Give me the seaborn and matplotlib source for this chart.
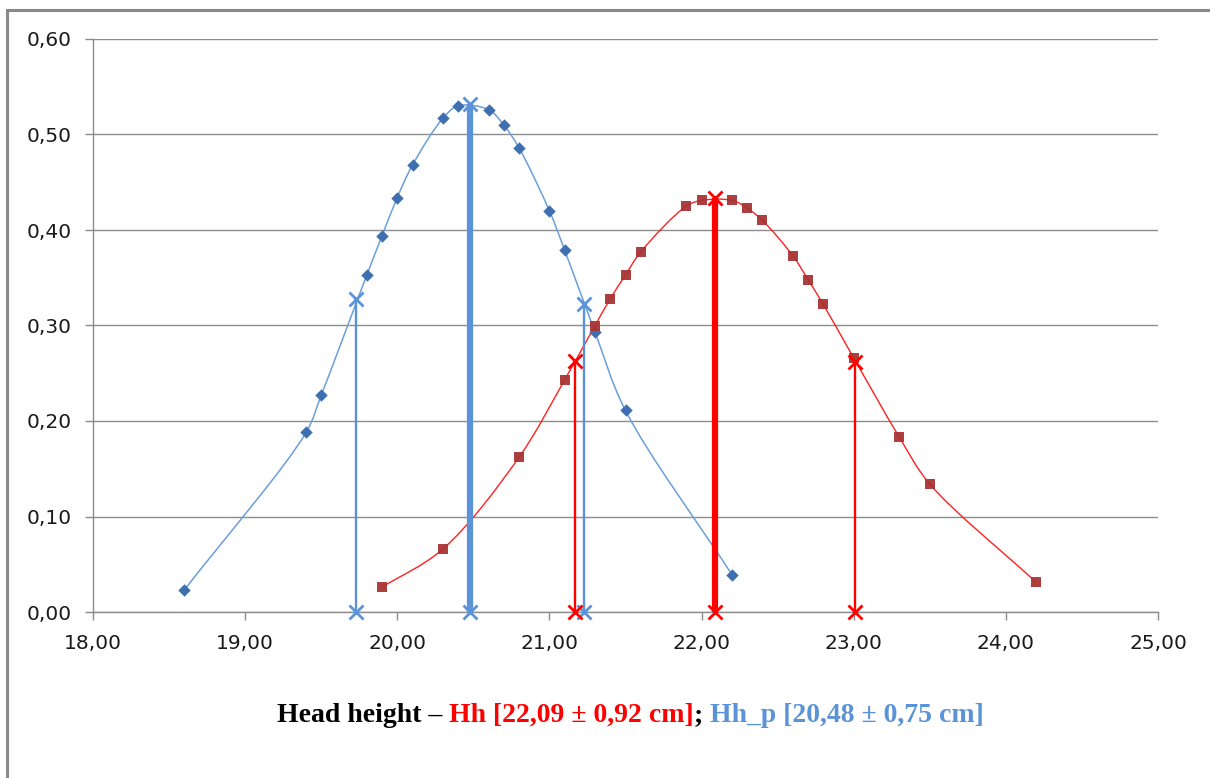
"""
Head height: normal curves of Hh and Hh_p, with mean and mean ± sd markers.
"""
import matplotlib
matplotlib.use("Agg")
import matplotlib.pyplot as plt
import numpy as np
import pandas as pd
import seaborn as sns
from matplotlib.patches import PathPatch, Rectangle
from matplotlib.path import Path
from matplotlib.ticker import FuncFormatter, MultipleLocator

# ── Dados ─────────────────────────────────────────────────────────────────────
hh_p_x = [18.6, 19.4, 19.5, 19.8, 19.9, 20.0, 20.1, 20.3, 20.4, 20.6, 20.7,
          20.8, 21.0, 21.1, 21.3, 21.5, 22.2]
hh_p_y = [0.023, 0.188, 0.227, 0.353, 0.394, 0.434, 0.468, 0.517, 0.530, 0.526,
          0.510, 0.486, 0.420, 0.379, 0.293, 0.211, 0.039]

hh_x = [19.9, 20.3, 20.8, 21.1, 21.3, 21.4, 21.5, 21.6, 21.9, 22.0, 22.2, 22.3,
        22.4, 22.6, 22.7, 22.8, 23.0, 23.3, 23.5, 24.2]
hh_y = [0.026, 0.066, 0.162, 0.243, 0.300, 0.328, 0.353, 0.377, 0.425, 0.431,
        0.431, 0.423, 0.410, 0.373, 0.348, 0.322, 0.266, 0.183, 0.134, 0.031]

# média e média ± desvio (x) e altura da curva nesses pontos (y)
hh_p_marks_x = [19.73, 20.48, 21.23]
hh_p_marks_y = [0.328, 0.532, 0.322]
hh_marks_x   = [21.17, 22.09, 23.01]
hh_marks_y   = [0.263, 0.434, 0.262]

x_ticks = [18, 19, 20, 21, 22, 23, 24, 25]
y_ticks = [0.0, 0.1, 0.2, 0.3, 0.4, 0.5, 0.6]

# ── Cores ─────────────────────────────────────────────────────────────────────
BLUE_LINE   = "#6a9fdc"
BLUE_MARK   = "#3e6fb0"
BLUE_VLINE  = "#5b93d8"
RED_LINE    = "#ff2020"
RED_MARK    = "#a83434"
RED_VLINE   = "#ff0000"
GRID        = "#8c8c8c"


def smooth_path(ax, xs, ys, alpha=0.5):
    """Linha suavizada (Catmull-Rom centrípeta convertida em Bezier cúbica)."""
    pts = ax.transData.transform(np.column_stack([xs, ys]))
    n = len(pts)
    verts, codes = [pts[0]], [Path.MOVETO]
    for i in range(n - 1):
        p1, p2 = pts[i], pts[i + 1]
        p0 = pts[i - 1] if i > 0 else 2 * p1 - p2
        p3 = pts[i + 2] if i + 2 < n else 2 * p2 - p1
        t01 = np.hypot(*(p1 - p0)) ** alpha
        t12 = np.hypot(*(p2 - p1)) ** alpha
        t23 = np.hypot(*(p3 - p2)) ** alpha
        m1 = ((p1 - p0) / t01 - (p2 - p0) / (t01 + t12) + (p2 - p1) / t12) * t12
        m2 = ((p2 - p1) / t12 - (p3 - p1) / (t12 + t23) + (p3 - p2) / t23) * t12
        verts += [p1 + m1 / 3, p2 - m2 / 3, p2]
        codes += [Path.CURVE4] * 3
    inv = ax.transData.inverted()
    return Path(inv.transform(np.array(verts)), codes)


sns.set_theme(style="white")
plt.rcParams["font.family"] = ["DejaVu Sans"]

fig = plt.figure(figsize=(12.1, 7.78), dpi=100)
ax = fig.add_axes([93 / 1210, 1 - 612 / 778, (1158 - 93) / 1210, (612 - 39) / 778])
ax.set_xlim(x_ticks[0], x_ticks[-1])
ax.set_ylim(y_ticks[0], y_ticks[-1])

# moldura externa
fig.patches.append(Rectangle((7 / 1210, -0.05), 1.2, 1 - 10 / 778 + 0.05,
                             transform=fig.transFigure, fill=False,
                             edgecolor="#8a8a8a", linewidth=2.2))

# curvas suavizadas
ax.add_patch(PathPatch(smooth_path(ax, hh_p_x, hh_p_y), fill=False,
                       edgecolor=BLUE_LINE, linewidth=1.1, zorder=3))
ax.add_patch(PathPatch(smooth_path(ax, hh_x, hh_y), fill=False,
                       edgecolor=RED_LINE, linewidth=1.0, zorder=3))

# pontos
df_p = pd.DataFrame({"x": hh_p_x, "y": hh_p_y})
df_h = pd.DataFrame({"x": hh_x, "y": hh_y})
sns.scatterplot(data=df_p, x="x", y="y", marker="D", s=40, color=BLUE_MARK,
                edgecolor=BLUE_MARK, linewidth=0, ax=ax, zorder=4)
sns.scatterplot(data=df_h, x="x", y="y", marker="s", s=60, color=RED_MARK,
                edgecolor=RED_MARK, linewidth=0, alpha=0.95, ax=ax, zorder=4)

# linhas verticais (média grossa, ±desvio finas)
for marks_x, marks_y, color in [(hh_p_marks_x, hh_p_marks_y, BLUE_VLINE),
                                (hh_marks_x, hh_marks_y, RED_VLINE)]:
    for k, (mx, my) in enumerate(zip(marks_x, marks_y)):
        lw = 4.5 if k == 1 else 1.7
        ax.plot([mx, mx], [0, my], color=color, linewidth=lw, zorder=5,
                marker="x", markersize=10, markeredgewidth=2.0,
                solid_capstyle="butt", clip_on=False)

ax.set_xlim(x_ticks[0], x_ticks[-1])
ax.set_ylim(y_ticks[0], y_ticks[-1])
ax.xaxis.set_major_locator(MultipleLocator(1))
ax.yaxis.set_major_locator(MultipleLocator(0.1))
ax.xaxis.set_major_formatter(FuncFormatter(lambda v, _: f"{v:.2f}".replace(".", ",")))
ax.yaxis.set_major_formatter(FuncFormatter(lambda v, _: f"{v:.2f}".replace(".", ",")))

ax.grid(axis="y", color=GRID, linewidth=1.0)
ax.grid(axis="x", visible=False)
ax.set_axisbelow(True)
for side in ("top", "right"):
    ax.spines[side].set_visible(False)
for side in ("left", "bottom"):
    ax.spines[side].set_color(GRID)
    ax.spines[side].set_linewidth(1.0)
ax.tick_params(axis="both", direction="out", length=5.5, width=1.0, color=GRID,
               labelsize=14.5, labelcolor="#1a1a1a", left=True, bottom=True)
ax.tick_params(axis="y", pad=10)
ax.tick_params(axis="x", pad=10)
ax.set_xlabel("")
ax.set_ylabel("")

# título inferior em várias cores
parts = [("Head height – ", "black"),
         ("Hh [22,09 ± 0,92 cm]", RED_VLINE),
         ("; ", "black"),
         ("Hh_p [20,48 ± 0,75 cm]", BLUE_VLINE)]
font = dict(family="Liberation Serif", weight="bold", size=20)
prev = fig.text(277 / 1210, 1 - 722 / 778, parts[0][0], color=parts[0][1],
                va="baseline", ha="left", **font)
for txt, col in parts[1:]:
    prev = ax.annotate(txt, xy=(1, 0), xycoords=prev, va="bottom", ha="left",
                       color=col, annotation_clip=False, **font)

fig.savefig("out.png", dpi=100)
